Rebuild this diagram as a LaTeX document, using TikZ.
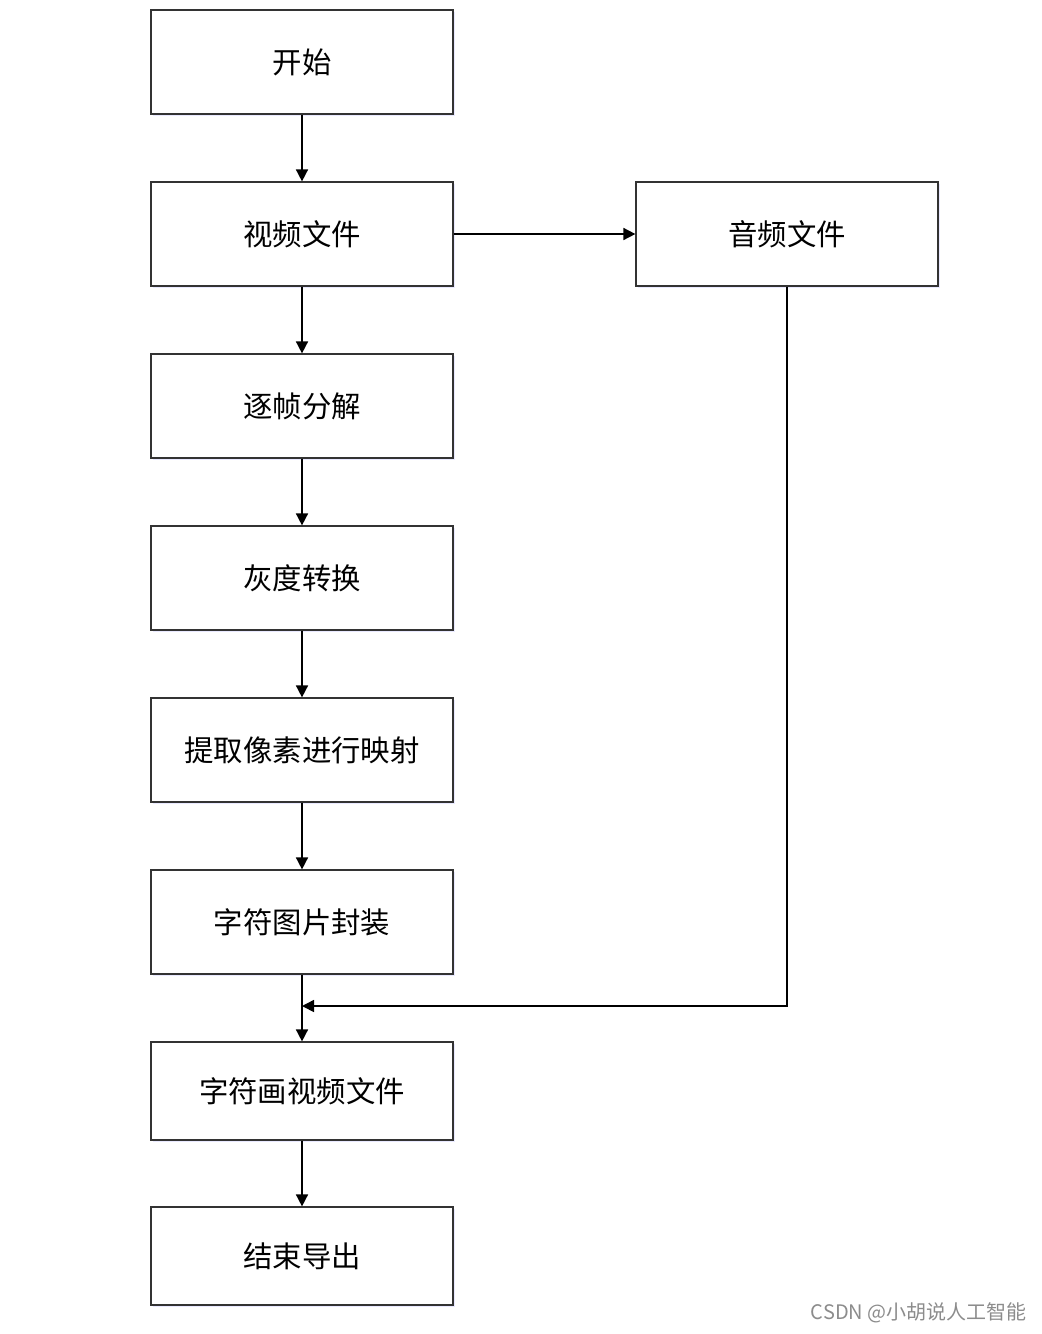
\documentclass[tikz,border=0pt]{standalone}
\usepackage{fontspec}
\newfontfamily\cjk{Noto Sans CJK SC}
\usetikzlibrary{arrows.meta,shadows}

\tikzset{
  stepbox/.style={draw=black!80,line width=0.6pt,fill=white,
    minimum width=151pt,minimum height=52pt,inner sep=0pt,
    font=\cjk\fontsize{14.7pt}{16pt}\selectfont,
    drop shadow={shadow xshift=0.8pt,shadow yshift=-1pt,
      fill=blue!25,opacity=0.35}},
  flow/.style={line width=0.8pt,-{Triangle[length=6pt,width=6pt]}}
}

\begin{document}
\begin{tikzpicture}[x=0.5pt,y=-0.5pt]
  \useasboundingbox (0,0) rectangle (1042,1334);

  % main column
  \node[stepbox] (start) at (302,62) {开始};
  \node[stepbox] (video) at (302,234) {视频文件};
  \node[stepbox] (split) at (302,406) {逐帧分解};
  \node[stepbox] (gray) at (302,578) {灰度转换};
  \node[stepbox] (map) at (302,750) {提取像素进行映射};
  \node[stepbox] (pack) at (302,922) {字符图片封装};
  \node[stepbox,minimum height=49pt] (out) at (302,1091) {字符画视频文件};
  \node[stepbox,minimum height=49pt] (finish) at (302,1256) {结束导出};

  % audio branch
  \node[stepbox] (audio) at (787,234) {音频文件};
  \coordinate (join) at (302,1006);

  \draw[flow] (start) -- (video);
  \draw[flow] (video) -- (split);
  \draw[flow] (split) -- (gray);
  \draw[flow] (gray) -- (map);
  \draw[flow] (map) -- (pack);
  \draw[flow] (pack) -- (out);
  \draw[flow] (out) -- (finish);
  \draw[flow] (video) -- (audio);
  \draw[flow] (audio.south) |- (join);

  \node[anchor=east,inner sep=0pt,text=black!45,
    font=\cjk\fontsize{10pt}{11pt}\selectfont]
    (mark) at (1027,1313) {CSDN @小胡说人工智能};
\end{tikzpicture}
\end{document}
